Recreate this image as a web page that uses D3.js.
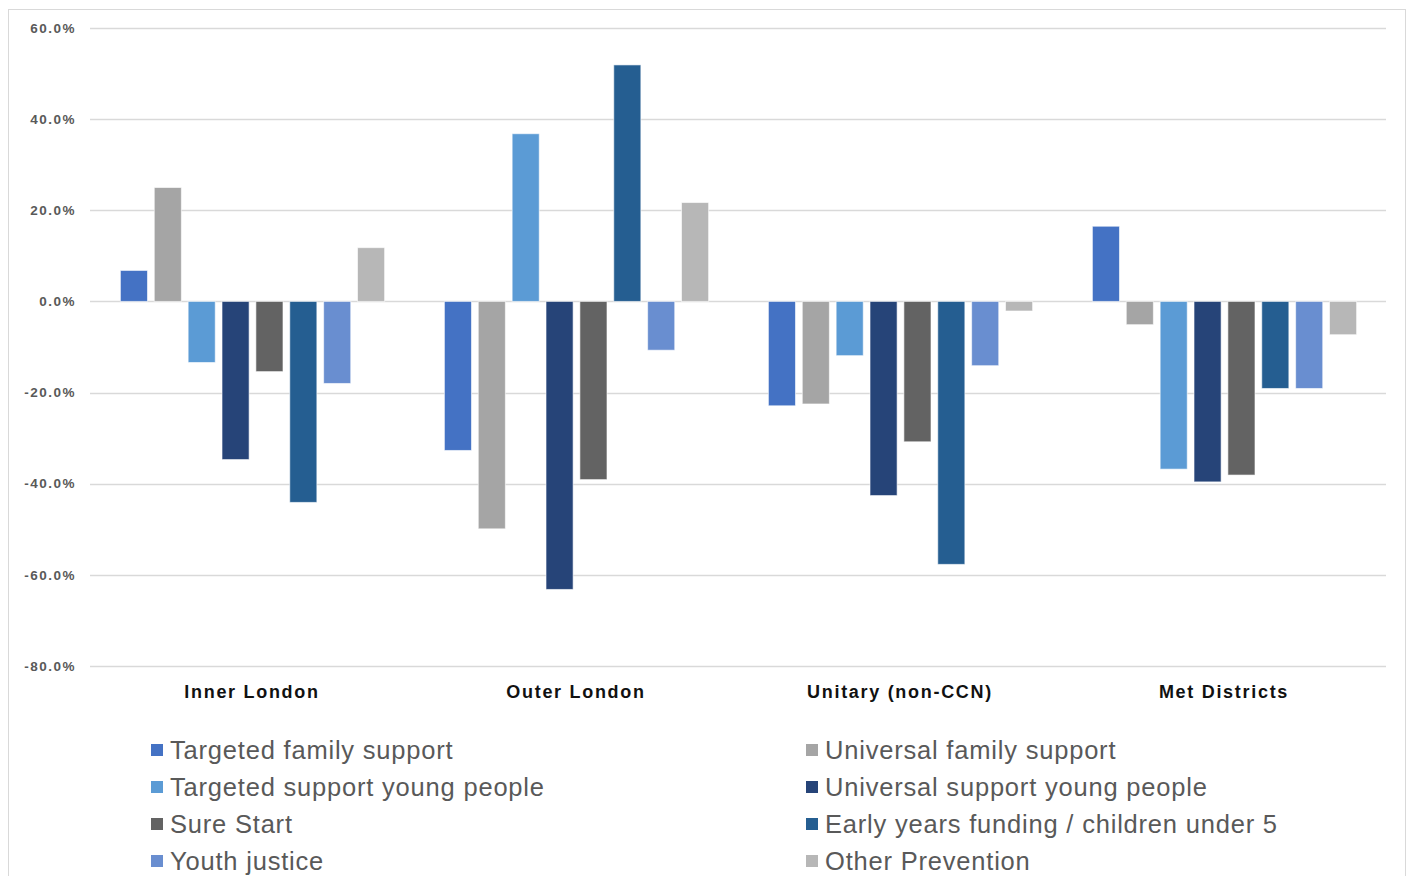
<!DOCTYPE html>
<html>
<head>
<meta charset="utf-8">
<script src="https://cdn.jsdelivr.net/npm/d3@7"></script>
<style>
  body { margin: 0; background: #fff; }
  svg { display: block; font-family: "Liberation Sans", Arial, sans-serif; }
</style>
</head>
<body>
<div id="chart"></div>
<script>
var categories = ['Inner London', 'Outer London', 'Unitary (non-CCN)', 'Met Districts'];
var series_names = [
    'Targeted family support', 'Universal family support',
    'Targeted support young people', 'Universal support young people',
    'Sure Start', 'Early years funding / children under 5',
    'Youth justice', 'Other Prevention'
];
var series_colors = ['#4472c4', '#a5a5a5', '#5b9bd5', '#264478',
                     '#636363', '#255e91', '#698ed0', '#b7b7b7'];

// values in %, one array per category, in series order
var inner_london = [6.8, 25.0, -13.4, -34.7, -15.4, -44.1, -18.0, 11.8];
var outer_london = [-32.7, -49.9, 36.8, -63.2, -39.1, 51.9, -10.7, 21.7];
var unitary = [-22.9, -22.5, -11.9, -42.6, -30.8, -57.7, -14.1, -2.1];
var met_districts = [16.5, -5.1, -36.8, -39.6, -38.1, -19.1, -19.1, -7.3];
var values = [inner_london, outer_london, unitary, met_districts];

var y_ticks = [60, 40, 20, 0, -20, -40, -60, -80];

var width = 1410, height = 876;

var svg = d3.select('#chart').append('svg')
    .attr('width', width)
    .attr('height', height);

// chart frame
svg.append('rect')
    .attr('x', 8.5).attr('y', 9.5)
    .attr('width', 1397).attr('height', 900)
    .attr('fill', 'none')
    .attr('stroke', '#d9d9d9')
    .attr('stroke-width', 1);

var y = d3.scaleLinear().domain([-80, 60]).range([666, 28]);
var x0 = d3.scaleBand().domain(categories).range([90, 1386]);
// 27 and 298 found by lining bars up with the picture
var x1 = d3.scaleBand().domain(d3.range(series_names.length))
    .range([27, 298]).paddingInner(0.2).paddingOuter(0.1);

// gridlines
svg.append('g').selectAll('line')
    .data(y_ticks)
    .enter().append('line')
    .attr('x1', 90).attr('x2', 1386)
    .attr('y1', function(d) { return Math.round(y(d)) + 0.5; })
    .attr('y2', function(d) { return Math.round(y(d)) + 0.5; })
    .attr('stroke', '#d9d9d9')
    .attr('stroke-width', 1.5);

// y labels
svg.append('g').selectAll('text')
    .data(y_ticks)
    .enter().append('text')
    .attr('x', 76)
    .attr('y', function(d) { return y(d); })
    .attr('dy', '0.35em')
    .attr('text-anchor', 'end')
    .attr('font-size', 13.5)
    .attr('font-weight', 'bold')
    .attr('letter-spacing', 1.5)
    .attr('fill', '#595959')
    .text(function(d) { return d.toFixed(1) + '%'; });

// bars
var groups = svg.append('g').selectAll('g')
    .data(categories)
    .enter().append('g')
    .attr('transform', function(d) { return 'translate(' + x0(d) + ',0)'; });

groups.selectAll('rect')
    .data(function(d, i) { return values[i]; })
    .enter().append('rect')
    .attr('x', function(d, j) { return x1(j); })
    .attr('width', x1.bandwidth())
    .attr('y', function(d) { return y(Math.max(0, d)); })
    .attr('height', function(d) { return Math.abs(y(d) - y(0)); })
    .attr('fill', function(d, j) { return series_colors[j]; })
    .attr('stroke', '#ffffff')
    .attr('stroke-opacity', 0.6)
    .attr('stroke-width', 1);

// category labels
svg.append('g').selectAll('text')
    .data(categories)
    .enter().append('text')
    .attr('x', function(d) { return x0(d) + x0.bandwidth() / 2; })
    .attr('y', 698)
    .attr('text-anchor', 'middle')
    .attr('font-size', 18)
    .attr('font-weight', 'bold')
    .attr('letter-spacing', 1.7)
    .attr('fill', '#111')
    .text(function(d) { return d; });

// legend, two columns
var legend = svg.append('g').selectAll('g')
    .data(series_names)
    .enter().append('g')
    .attr('transform', function(d, i) {
        var col = i % 2, row = Math.floor(i / 2);
        return 'translate(' + (col === 0 ? 151 : 806) + ',' + (750 + row * 37) + ')';
    });

legend.append('rect')
    .attr('x', 0).attr('y', -6)
    .attr('width', 12).attr('height', 12)
    .attr('fill', function(d, i) { return series_colors[i]; });

legend.append('text')
    .attr('x', 19)
    .attr('y', 0)
    .attr('dy', '0.35em')
    .attr('font-size', 25.5)
    .attr('letter-spacing', 0.8)
    .attr('fill', '#595959')
    .text(function(d) { return d; });
</script>
</body>
</html>
